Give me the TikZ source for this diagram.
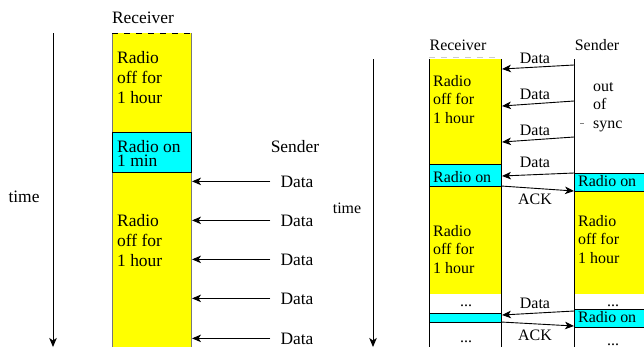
\documentclass[tikz,border=0pt]{standalone}
\usepackage{fontspec}
\setmainfont{Liberation Serif}
\usetikzlibrary{arrows.meta}
\definecolor{offy}{RGB}{255,255,0}
\definecolor{onc}{RGB}{0,255,255}
\definecolor{lgray}{RGB}{120,120,120}
\begin{document}
\begin{tikzpicture}[x=1bp,y=-1bp,
  big/.style={font=\fontsize{17.5}{20}\selectfont, inner sep=0pt},
  bigtight/.style={font=\fontsize{17.5}{14}\selectfont, inner sep=0pt},
  small/.style={font=\fontsize{16}{18.5}\selectfont, inner sep=0pt},
  arr/.style={line width=0.9bp, -{Stealth[length=9bp,width=7.5bp,inset=2.5bp]}},
  colline/.style={line width=1bp},
  onbox/.style={fill=onc, draw=black, line width=1bp},
]
\useasboundingbox (0,0) rectangle (644,347);

% ---------------- left diagram ----------------
\fill[offy] (112,33) rectangle (191,347);
\draw[colline, lgray] (112,33) -- (112,347);
\draw[colline, lgray] (191,33) -- (191,347);
\draw[line width=1bp, dash pattern=on 6bp off 6bp] (112,33) -- (191,33);
\draw[onbox] (112,132) rectangle (191,172);
\coordinate (lrecR) at (192,0);

\node[big, anchor=base] (lrec) at (143,23) {Receiver};
\node[big, anchor=base west, align=left] (loff1) at (117,103) {Radio\\off for\\1 hour};
\node[bigtight, anchor=base west, align=left] (lon) at (117,166) {Radio on\\1 min};
\node[big, anchor=base west, align=left] (loff2) at (117,266) {Radio\\off for\\1 hour};
\node[big, anchor=base] (lsend) at (295,152) {Sender};
\node[big, anchor=base] (ltime) at (24,202) {time};

\coordinate (lt0) at (53,33);
\coordinate (lt1) at (53,347);
\draw[arr] (lt0) -- (lt1);

\foreach \i/\y in {1/187,2/226,3/265,4/304,5/344}{
  \node[big, anchor=base] (ld\i) at (297,\y) {Data};
  \draw[arr] ([xshift=-10bp]ld\i.west) -- (ld\i.west -| lrecR);
}

% ---------------- right diagram ----------------
\fill[offy] (429,59) rectangle (501,164);
\fill[offy] (429,186) rectangle (501,294);
\draw[onbox] (429,164) rectangle (501,186);
\draw[onbox] (429,313) rectangle (501,322);
\draw[colline] (429,59) -- (429,347);
\draw[colline] (501,59) -- (501,347);
\draw[line width=1bp, gray!40, dash pattern=on 6bp off 6bp] (429,57) -- (501,57);

\fill[offy] (574,191) rectangle (644,294);
\draw[onbox] (574,173) rectangle (646,191);
\draw[onbox] (574,309) rectangle (646,327);
\draw[colline] (574,59) -- (574,347);
\draw[line width=0.6bp, gray] (580,123) -- (584,123);

\node[small, anchor=base] (rrec) at (458,50) {Receiver};
\node[small, anchor=base] (rsend) at (597,50) {Sender};
\node[small, anchor=base] (rtime) at (347,213) {time};
\node[small, anchor=base west, align=left] (roff1) at (433,123) {Radio\\off for\\1 hour};
\node[small, anchor=base west] (ron1) at (433,182) {Radio on};
\node[small, anchor=base west, align=left] (roff2) at (433,273) {Radio\\off for\\1 hour};
\node[small, anchor=base] (rdots1) at (466,306) {...};
\node[small, anchor=base] (rdots2) at (466,342) {...};
\node[small, anchor=base west, align=left] (sync) at (593,128) {out\\of\\sync};
\node[small, anchor=base west] (son1) at (578,186) {Radio on};
\node[small, anchor=base west, align=left] (soff) at (578,263) {Radio\\off for\\1 hour};
\node[small, anchor=base] (sdots1) at (613,306) {...};
\node[small, anchor=base west] (son2) at (578,322) {Radio on};
\node[small, anchor=base] (sdots2) at (613,345) {...};

\coordinate (rt0) at (373,59);
\coordinate (rt1) at (373,347);
\draw[arr] (rt0) -- (rt1);

\foreach \i/\ys/\ye/\yl in {1/65/69/63,2/101/106/99,3/137/142/135,4/173/176/167,5/311/315/308}{
  \coordinate (sd\i) at (574,\ys);
  \coordinate (rd\i) at (502,\ye);
  \node[small, anchor=base] (rdl\i) at (535,\yl) {Data};
  \draw[arr] (sd\i) -- (rd\i);
}
\foreach \i/\ys/\ye/\yl in {1/186/191/204,2/322/326/340}{
  \coordinate (ra\i) at (501,\ys);
  \coordinate (sa\i) at (574,\ye);
  \node[small, anchor=base] (ral\i) at (535,\yl) {ACK};
  \draw[arr] (ra\i) -- (sa\i);
}
\end{tikzpicture}
\end{document}
